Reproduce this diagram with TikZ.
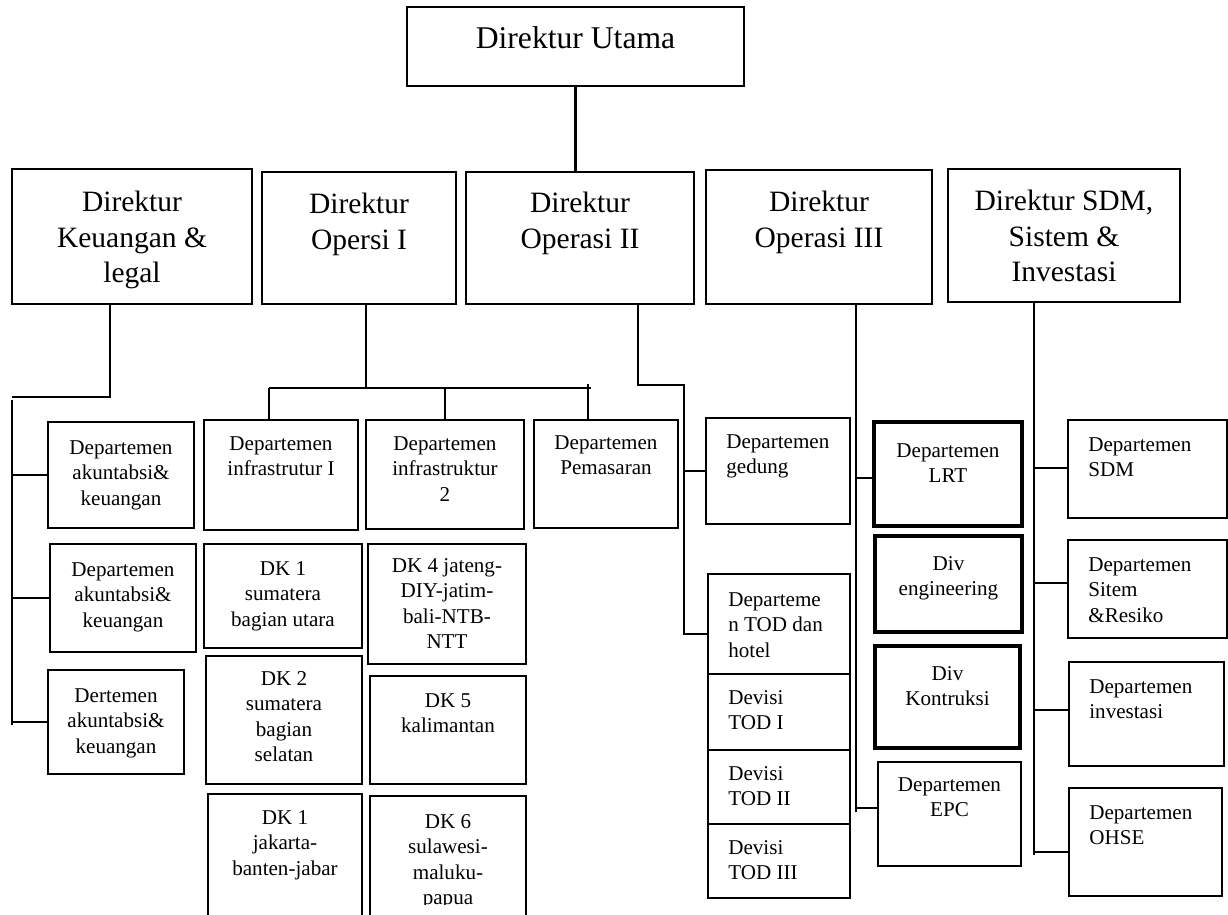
\documentclass[tikz,border=0pt]{standalone}
\usepackage{fontspec}
\setmainfont{Liberation Serif}
\tikzset{
  bx/.style={draw=black, line width=0.8pt, inner sep=0pt, outer sep=0pt},
  tbx/.style={draw=black, line width=1.8pt, inner sep=0pt, outer sep=0pt},
  ln/.style={draw=black, line width=0.8pt},
  lnthick/.style={draw=black, line width=1.4pt},
  xl/.style={font=\fontsize{18}{21.8}\selectfont},
  lg/.style={font=\fontsize{16.8}{20.2}\selectfont},
  sm/.style={font=\fontsize{12}{14.5}\selectfont},
}
% name, x1, y1, x2, y2, box style, text style, offset, text
\newcommand\cbx[9]{%
  \node[#6,minimum width={(#4-#2)*0.02cm},minimum height={(#5-#3)*0.02cm}] (#1) at ({(#2+#4)/2},{(#3+#5)/2}) {};
  \node[#7,anchor=north,inner sep=0pt,align=center] (#1-t) at ([yshift={-(#8)*0.02cm}]#1.north) {#9};
}
\newcommand\lbx[9]{%
  \node[#6,minimum width={(#4-#2)*0.02cm},minimum height={(#5-#3)*0.02cm}] (#1) at ({(#2+#4)/2},{(#3+#5)/2}) {};
  \node[#7,anchor=north west,inner sep=0pt,align=left] (#1-t) at ([xshift={20*0.02cm},yshift={-(#8)*0.02cm}]#1.north west) {#9};
}
\begin{document}
\begin{tikzpicture}[x=0.02cm,y=-0.02cm]
\clip (0,0) rectangle (1228,915);
\fill[white] (0,0) rectangle (1228,915);

% directors
\cbx{du}{407}{7}{744}{86}{bx}{xl}{19}{Direktur Utama}
\cbx{dk}{12}{169}{252}{304}{bx}{lg}{22}{Direktur\\Keuangan \&\\legal}
\cbx{do1}{262}{172}{456}{304}{bx}{lg}{21}{Direktur\\Opersi I}
\cbx{do2}{466}{172}{694}{304}{bx}{lg}{20}{Direktur\\Operasi II}
\cbx{do3}{706}{170}{932}{304}{bx}{lg}{21}{Direktur\\Operasi III}
\cbx{dsd}{948}{169}{1180}{302}{bx}{lg}{21}{Direktur SDM,\\Sistem \&\\Investasi}

% column A
\cbx{a1}{48}{422}{194}{528}{bx}{sm}{18}{Departemen\\akuntabsi\&\\keuangan}
\cbx{a2}{50}{544}{196}{652}{bx}{sm}{18}{Departemen\\akuntabsi\&\\keuangan}
\cbx{a3}{48}{670}{184}{774}{bx}{sm}{18}{Dertemen\\akuntabsi\&\\keuangan}
% column B
\cbx{b1}{204}{420}{358}{530}{bx}{sm}{16}{Departemen\\infrastrutur I}
\cbx{b2}{204}{544}{362}{648}{bx}{sm}{17}{DK 1\\sumatera\\bagian utara}
\cbx{b3}{206}{656}{362}{784}{bx}{sm}{15}{DK 2\\sumatera\\bagian\\selatan}
\cbx{b4}{208}{794}{362}{935}{bx}{sm}{16}{DK 1\\jakarta-\\banten-jabar}
% column C
\cbx{c1}{366}{420}{524}{529}{bx}{sm}{16}{Departemen\\infrastruktur\\2}
\cbx{c2}{368}{544}{526}{664}{bx}{sm}{14}{DK 4 jateng-\\DIY-jatim-\\bali-NTB-\\NTT}
\cbx{c3}{370}{676}{526}{784}{bx}{sm}{17}{DK 5\\kalimantan}
\node[bx,minimum width={156*0.02cm},minimum height={139*0.02cm}] (c4) at (448,865.5) {};
\begin{scope}
  \clip (370,796) rectangle (526,904);
  \node[sm,anchor=north,inner sep=0pt,align=center] (c4-t) at ([yshift={-18*0.02cm}]c4.north) {DK 6\\sulawesi-\\maluku-\\papua};
\end{scope}
\cbx{pm}{534}{420}{678}{528}{bx}{sm}{15}{Departemen\\Pemasaran}
% Operasi II
\lbx{gd}{706}{418}{850}{524}{bx}{sm}{16}{Departemen\\gedung}
\lbx{th}{708}{574}{850}{674}{bx}{sm}{18}{Departeme\\n TOD dan\\hotel}
\lbx{t1}{708}{674}{850}{750}{bx}{sm}{16}{Devisi\\TOD I}
\lbx{t2}{708}{750}{850}{824}{bx}{sm}{16}{Devisi\\TOD II}
\lbx{t3}{708}{824}{850}{898}{bx}{sm}{16}{Devisi\\TOD III}
% Operasi III
\cbx{lrt}{874}{422}{1022}{526}{tbx}{sm}{21}{Departemen\\LRT}
\cbx{eng}{875}{536}{1022}{632}{tbx}{sm}{20}{Div\\engineering}
\cbx{kon}{875}{646}{1020}{748}{tbx}{sm}{20}{Div\\Kontruksi}
\cbx{epc}{878}{762}{1021}{866}{bx}{sm}{15}{Departemen\\EPC}
% SDM
\lbx{sdm}{1068}{420}{1227}{518}{bx}{sm}{17}{Departemen\\SDM}
\lbx{sit}{1068}{540}{1227}{638}{bx}{sm}{17}{Departemen\\Sitem\\\&Resiko}
\lbx{inv}{1069}{662}{1224}{766}{bx}{sm}{17}{Departemen\\investasi}
\lbx{oh}{1069}{788}{1222}{896}{bx}{sm}{17}{Departemen\\OHSE}

% connectors
\draw[lnthick] (du.south) -- (du.south |- do2.north);

\coordinate (k1) at (110,397);
\coordinate (k0) at (12,397);
\draw[ln] (dk.south -| k1) -- (k1) -- (k0);
\coordinate (kt) at (12,400);
\coordinate (kb) at (12,725);
\draw[ln] (kt) -- (kb);
\draw[ln] (kt |- a1.west) -- (a1.west);
\draw[ln] (kt |- a2.west) -- (a2.west);
\draw[ln] (kt |- a3.west) -- (a3.west);

\coordinate (o1) at (366,388);
\coordinate (o1l) at (269,388);
\coordinate (o1r) at (591,388);
\coordinate (o1p) at (588,384);
\draw[ln] (do1.south -| o1) -- (o1);
\draw[ln] (o1l) -- (o1r);
\draw[ln] (o1l) -- (o1l |- b1.north);
\draw[ln] (c1.north |- o1) -- (c1.north);
\draw[ln] (o1p) -- (o1p |- pm.north);

\coordinate (o2a) at (638,385);
\coordinate (o2b) at (684,385);
\coordinate (o2c) at (684,635);
\coordinate (o2t) at (684,634);
\draw[ln] (do2.south -| o2a) -- (o2a) -- (o2b) -- (o2c);
\draw[ln] (o2b |- gd.west) -- (gd.west);
\draw[ln] (o2t) -- (o2t -| th.west);

\coordinate (o3a) at (856,812);
\coordinate (o3l) at (856,478);
\coordinate (o3e) at (856,808);
\draw[ln] (do3.south -| o3a) -- (o3a);
\draw[ln] (o3l) -- (o3l -| lrt.west);
\draw[ln] (o3e) -- (o3e -| epc.west);

\coordinate (sa) at (1034,855);
\coordinate (s1) at (1034,468);
\coordinate (s2) at (1034,583);
\coordinate (s3) at (1034,710);
\coordinate (s4) at (1034,852);
\draw[ln] (dsd.south -| sa) -- (sa);
\draw[ln] (s1) -- (s1 -| sdm.west);
\draw[ln] (s2) -- (s2 -| sit.west);
\draw[ln] (s3) -- (s3 -| inv.west);
\draw[ln] (s4) -- (s4 -| oh.west);
\end{tikzpicture}
\end{document}
